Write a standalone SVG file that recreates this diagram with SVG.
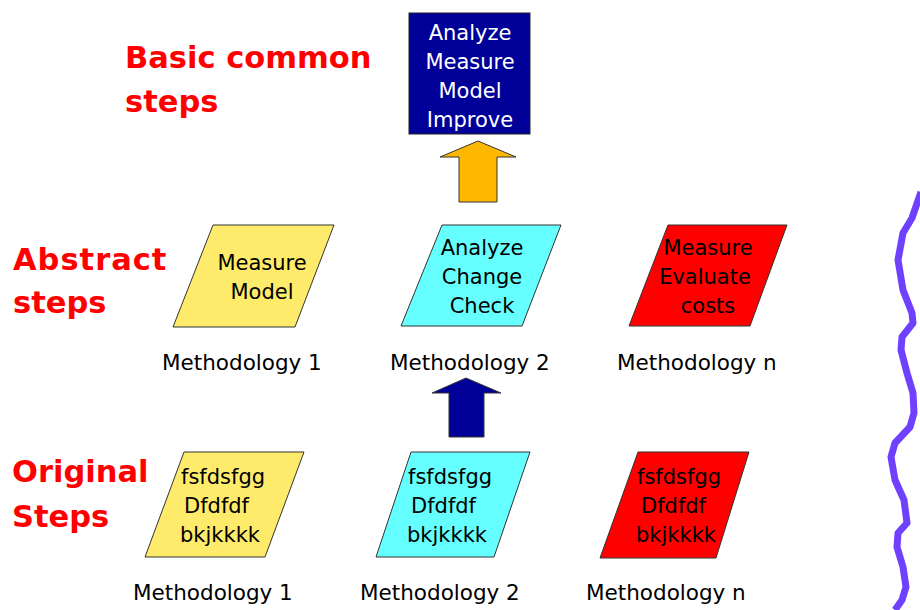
<svg xmlns="http://www.w3.org/2000/svg" width="920" height="610" viewBox="0 0 920 610">
  <style>
    .title { font-family: "DejaVu Sans", "Liberation Sans", sans-serif; font-weight: bold; font-size: 30.5px; fill: #ff0000; }
    .lbl { font-family: "DejaVu Sans", "Liberation Sans", sans-serif; font-size: 21.5px; fill: #000000; }
    .in { font-family: "DejaVu Sans", "Liberation Sans", sans-serif; font-size: 21px; fill: #000000; text-anchor: middle; }
    .inl { font-family: "DejaVu Sans", "Liberation Sans", sans-serif; font-size: 21px; fill: #000000; }
    .top { font-family: "DejaVu Sans", "Liberation Sans", sans-serif; font-size: 21px; fill: #ffffff; text-anchor: middle; }
    .shape { stroke: #333333; stroke-width: 1; }
    .yel { fill: #ffeb6b; }
    .cyan { fill: #66ffff; }
    .red { fill: #ff0000; }
  </style>

  <!-- row titles -->
  <g id="titles">
    <text class="title" x="125" y="68">Basic common</text>
    <text class="title" x="125" y="112">steps</text>
    <text class="title" x="13" y="270" letter-spacing="1">Abstract</text>
    <text class="title" x="13" y="313">steps</text>
    <text class="title" x="12" y="482">Original</text>
    <text class="title" x="12" y="527">Steps</text>
  </g>

  <!-- common steps box -->
  <g id="common">
    <rect x="409" y="13" width="121" height="121" fill="#000099" stroke="#222222" stroke-width="1"/>
    <text class="top" x="470" y="40">Analyze</text>
    <text class="top" x="470" y="69">Measure</text>
    <text class="top" x="470" y="98">Model</text>
    <text class="top" x="470" y="127">Improve</text>
  </g>

  <!-- abstract steps -->
  <g id="abstract1">
    <polygon class="shape yel" points="213,225 334,225 295,327 173,327"/>
    <text class="in" x="262" y="270">Measure</text>
    <text class="in" x="262" y="299">Model</text>
  </g>
  <g id="abstract2">
    <polygon class="shape cyan" points="442,225 561,225 522,326 401,326"/>
    <text class="in" x="482" y="255">Analyze</text>
    <text class="in" x="482" y="284">Change</text>
    <text class="in" x="482" y="313">Check</text>
  </g>
  <g id="abstractn">
    <polygon class="shape red" points="668,225 787,225 750,326 629,326"/>
    <text class="in" x="708" y="255">Measure</text>
    <text class="in" x="705" y="284">Evaluate</text>
    <text class="in" x="708" y="313">costs</text>
  </g>

  <!-- original steps -->
  <g id="original1">
    <polygon class="shape yel" points="184,452 304,452 265,557 145,557"/>
    <text class="inl" x="181" y="484">fsfdsfgg</text>
    <text class="inl" x="184" y="513">Dfdfdf</text>
    <text class="inl" x="180" y="542">bkjkkkk</text>
  </g>
  <g id="original2">
    <polygon class="shape cyan" points="411,452 530,452 494,557 376,557"/>
    <text class="inl" x="408" y="484">fsfdsfgg</text>
    <text class="inl" x="411" y="513">Dfdfdf</text>
    <text class="inl" x="407" y="542">bkjkkkk</text>
  </g>
  <g id="originaln">
    <polygon class="shape red" points="638,452 749,452 716,558 600,558"/>
    <text class="inl" x="637" y="484">fsfdsfgg</text>
    <text class="inl" x="641" y="513">Dfdfdf</text>
    <text class="inl" x="636" y="542">bkjkkkk</text>
  </g>

  <!-- methodology captions -->
  <g id="captions">
    <text class="lbl" x="162" y="370">Methodology 1</text>
    <text class="lbl" x="390" y="370">Methodology 2</text>
    <text class="lbl" x="617" y="370">Methodology n</text>
    <text class="lbl" x="133" y="600">Methodology 1</text>
    <text class="lbl" x="360" y="600">Methodology 2</text>
    <text class="lbl" x="586" y="600">Methodology n</text>
  </g>

  <!-- connectors: block arrows -->
  <g id="connectors">
    <polygon points="478,141 516,157 497,157 497,202 459,202 459,157 440,157" fill="#ffb800" stroke="#333333" stroke-width="1"/>
    <polygon points="466,378 501,393 484,393 484,437 449,437 449,393 432,393" fill="#000099" stroke="#333333" stroke-width="1"/>
  </g>

  <!-- wavy brace on the right edge -->
  <g id="wave">
    <polyline points="921,192 912,218 903,233 898,260 903,290 912,313 913,323 902,337 901,350 907,373 913,393 914,413 910,427 895,443 891,457 895,480 904,500 907,523 898,533 897,547 903,567 906,587 902,600 895,610" fill="none" stroke="#7040ff" stroke-width="7" stroke-linejoin="round"/>
  </g>
</svg>
